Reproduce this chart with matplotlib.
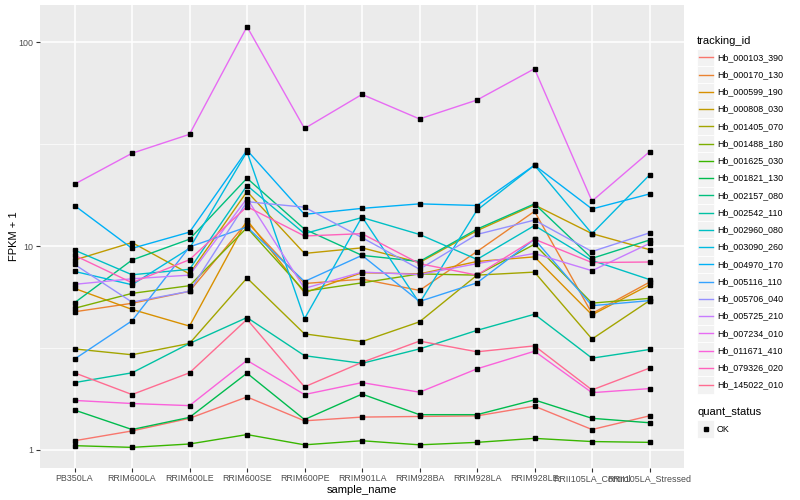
import matplotlib
matplotlib.use('Agg')
import matplotlib.pyplot as plt
from matplotlib.lines import Line2D
from matplotlib.patches import Rectangle
from matplotlib.ticker import FixedLocator, NullFormatter

plt.rcParams['font.family'] = ['Liberation Sans', 'DejaVu Sans']

samples = ['PB350LA', 'RRIM600LA', 'RRIM600LE', 'RRIM600SE', 'RRIM600PE', 'RRIM901LA',
           'RRIM928BA', 'RRIM928LA', 'RRIM928LE', 'RRII105LA_Control', 'RRII105LA_Stressed']

tracking_ids = ['Hb_000103_390', 'Hb_000170_130', 'Hb_000599_190', 'Hb_000808_030',
                'Hb_001405_070', 'Hb_001488_180', 'Hb_001625_030', 'Hb_001821_130',
                'Hb_002157_080', 'Hb_002542_110', 'Hb_002960_080', 'Hb_003090_260',
                'Hb_004970_170', 'Hb_005116_110', 'Hb_005706_040', 'Hb_005725_210',
                'Hb_007234_010', 'Hb_011671_410', 'Hb_079326_020', 'Hb_145022_010']

# ggplot default hue palette for 20 levels
colors = ['#F8766D', '#EA8331', '#D89000', '#C09B00', '#A3A500', '#7CAE00', '#39B600',
          '#00BB4E', '#00BF7D', '#00C1A3', '#00BFC4', '#00BAE0', '#00B0F6', '#35A2FF',
          '#9590FF', '#C77CFF', '#E76BF3', '#FA62DB', '#FF62BC', '#FF6C91']

# FPKM + 1 per sample
hb_000103_390 = [1.11, 1.24, 1.43, 1.82, 1.39, 1.45, 1.46, 1.47, 1.64, 1.26, 1.47]
hb_000170_130 = [4.76, 5.24, 6.0, 13.1, 6.55, 6.88, 6.06, 9.4, 14.8, 4.67, 6.65]
hb_000599_190 = [6.2, 4.89, 4.05, 13.4, 5.9, 7.4, 7.3, 8.4, 8.85, 4.6, 6.45]
hb_000808_030 = [8.54, 10.4, 7.3, 18.5, 9.2, 9.8, 8.3, 11.9, 15.9, 11.5, 9.6]
hb_001405_070 = [3.13, 2.93, 3.33, 6.97, 3.71, 3.4, 4.25, 7.2, 7.45, 3.5, 5.4]
hb_001488_180 = [4.95, 5.86, 6.39, 12.3, 6.0, 6.6, 7.3, 7.2, 10.2, 5.25, 5.54]
hb_001625_030 = [1.05, 1.03, 1.07, 1.19, 1.06, 1.11, 1.06, 1.09, 1.14, 1.1, 1.09]
hb_001821_130 = [1.57, 1.26, 1.445, 2.38, 1.41, 1.88, 1.49, 1.49, 1.76, 1.43, 1.36]
hb_002157_080 = [5.27, 8.54, 10.8, 21.5, 12.1, 9.0, 8.4, 12.1, 16.1, 8.7, 10.7]
hb_002542_110 = [2.14, 2.39, 3.33, 4.46, 2.9, 2.66, 3.13, 3.86, 4.63, 2.82, 3.11]
hb_002960_080 = [9.55, 7.23, 7.69, 19.8, 11.5, 13.8, 11.4, 8.6, 12.6, 8.5, 6.85]
hb_003090_260 = [7.51, 6.46, 9.74, 29.0, 4.4, 13.9, 5.25, 15.0, 24.9, 11.5, 22.3]
hb_004970_170 = [15.8, 9.74, 11.7, 29.5, 14.3, 15.3, 16.1, 15.8, 24.9, 15.2, 18.0]
hb_005116_110 = [2.79, 4.30, 9.9, 12.4, 6.7, 9.0, 5.35, 6.6, 10.8, 5.1, 5.4]
hb_005706_040 = [8.13, 5.31, 6.0, 16.5, 15.5, 11.0, 7.7, 11.4, 13.4, 9.4, 11.6]
hb_005725_210 = [6.49, 6.91, 7.2, 17.1, 6.2, 7.45, 7.25, 8.2, 9.2, 7.57, 10.3]
hb_007234_010 = [20.1, 28.5, 35.3, 119.0, 37.7, 55.4, 42.0, 52.0, 74.0, 16.6, 29.0]
hb_011671_410 = [1.75, 1.69, 1.65, 2.75, 1.87, 2.14, 1.92, 2.5, 3.05, 1.91, 2.0]
hb_079326_020 = [9.0, 6.61, 8.57, 15.6, 11.2, 11.5, 8.2, 7.2, 10.8, 8.3, 8.35]
hb_145022_010 = [2.39, 1.87, 2.39, 4.37, 2.04, 2.69, 3.42, 3.03, 3.24, 1.97, 2.52]

values = [hb_000103_390, hb_000170_130, hb_000599_190, hb_000808_030, hb_001405_070,
          hb_001488_180, hb_001625_030, hb_001821_130, hb_002157_080, hb_002542_110,
          hb_002960_080, hb_003090_260, hb_004970_170, hb_005116_110, hb_005706_040,
          hb_005725_210, hb_007234_010, hb_011671_410, hb_079326_020, hb_145022_010]

W, H = 800, 500
fig = plt.figure(figsize=(8, 5), dpi=100)
ax = fig.add_axes([40 / W, 1 - 468 / H, 644 / W, 463 / H])
ax.set_facecolor('#EBEBEB')

x = list(range(len(samples)))
for vals, col in zip(values, colors):
    ax.plot(x, vals, color=col, lw=1.0, zorder=2)
for vals in values:
    ax.plot(x, vals, ls='none', marker='s', ms=2.6, color='black', zorder=3)

ax.set_yscale('log')
ax.set_ylim(0.816, 152)
ax.set_xlim(-0.6, 10.6)
ax.set_yticks([1, 10, 100])
ax.set_yticklabels(['1', '10', '100'])
ax.yaxis.set_minor_locator(FixedLocator([10 ** 0.5, 10 ** 1.5]))
ax.yaxis.set_minor_formatter(NullFormatter())
ax.set_xticks(x)
ax.set_xticklabels(samples)
ax.grid(which='major', color='white', lw=1.1)
ax.grid(which='minor', axis='y', color='white', lw=0.5)
ax.set_axisbelow(True)
for s in ax.spines.values():
    s.set_visible(False)
ax.tick_params(which='major', length=3, width=0.8, color='#333333', labelsize=6.4,
               labelcolor='#4D4D4D', pad=1.5)
ax.tick_params(which='minor', length=0)
ax.set_xlabel('sample_name', fontsize=8, labelpad=1)
ax.set_ylabel('FPKM + 1', fontsize=8, labelpad=0)


def fx(px):
    return px / W


def fy(py):
    return 1 - py / H


# tracking_id legend
fig.text(fx(697), fy(40.7), 'tracking_id', fontsize=8, va='center', ha='left')
step = 17.25
for i, (name, col) in enumerate(zip(tracking_ids, colors)):
    yc = 57.3 + step * i
    fig.add_artist(Rectangle((fx(697), fy(yc + step / 2)), step / W, step / H,
                             transform=fig.transFigure, facecolor='#F2F2F2',
                             edgecolor='white', lw=0.6))
    fig.add_artist(Line2D([fx(698.5), fx(712.5)], [fy(yc), fy(yc)], color=col, lw=1.0))
    fig.text(fx(717), fy(yc), name, fontsize=6.4, va='center', ha='left')

# quant_status legend
fig.text(fx(697), fy(412.3), 'quant_status', fontsize=8, va='center', ha='left')
yc = 429
fig.add_artist(Rectangle((fx(697), fy(yc + step / 2)), step / W, step / H,
                         transform=fig.transFigure, facecolor='#F2F2F2',
                         edgecolor='white', lw=0.6))
fig.add_artist(Line2D([fx(705.6)], [fy(yc)], ls='none', marker='s', ms=2.6, color='black'))
fig.text(fx(717), fy(yc), 'OK', fontsize=6.4, va='center', ha='left')

fig.savefig('out.png', dpi=100)
